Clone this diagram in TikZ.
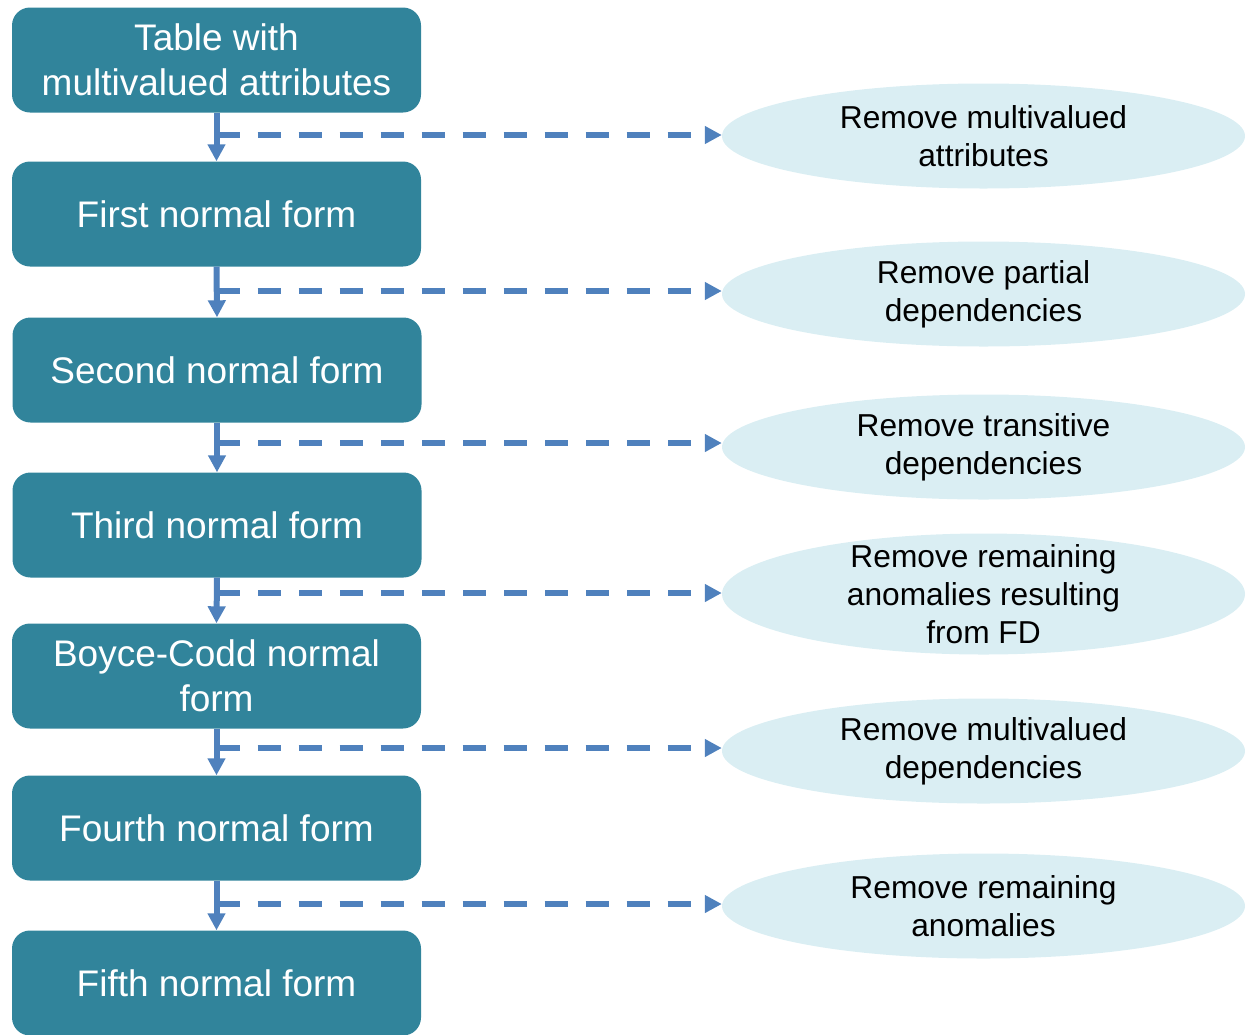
\documentclass[tikz,border=0pt]{standalone}
\usepackage{fontspec}
\setmainfont{Liberation Sans}
\usetikzlibrary{shapes.geometric,arrows.meta}
\definecolor{boxteal}{RGB}{49,132,155}
\definecolor{ellfill}{RGB}{218,238,243}
\definecolor{arrowblue}{RGB}{79,129,189}
\begin{document}
\begin{tikzpicture}[x=1pt,y=-1pt,
  formbox/.style={fill=boxteal, rounded corners=18pt, minimum width=409pt, minimum height=105pt,
    inner sep=0pt, text=white, align=center, font=\fontsize{37}{45}\selectfont},
  stepell/.style={ellipse, fill=ellfill, minimum width=523pt, minimum height=105pt,
    inner xsep=0pt, inner ysep=-25pt, align=center, font=\fontsize{31.7}{38}\selectfont},
  varrow/.style={draw=arrowblue, line width=6pt, -{Triangle[length=17pt,width=17pt]}},
  darrow/.style={draw=arrowblue, line width=6pt, dash pattern=on 23pt off 18pt,
    -{Triangle[length=17pt,width=17pt]}}]
\useasboundingbox (0,0) rectangle (1249,1034);
\node[formbox] (b1) at (216.5,60) {Table with\\multivalued attributes};
\node[formbox] (b2) at (216.5,214) {First normal form};
\node[formbox] (b3) at (217,370) {Second normal form};
\node[formbox] (b4) at (217,525) {Third normal form};
\node[formbox] (b5) at (216.5,676) {Boyce-Codd normal\\form};
\node[formbox] (b6) at (216.5,828) {Fourth normal form};
\node[formbox] (b7) at (216.5,983) {Fifth normal form};

\node[stepell] (e1) at (983.5,136) {Remove multivalued\\attributes};
\node[stepell] (e2) at (983.5,294) {Remove partial\\dependencies};
\node[stepell] (e3) at (983.5,447) {Remove transitive\\dependencies};
\node[stepell, minimum height=121pt] (e4) at (983.5,594) {Remove remaining\\anomalies resulting\\from FD};
\node[stepell] (e5) at (983.5,751) {Remove multivalued\\dependencies};
\node[stepell] (e6) at (983.5,906) {Remove remaining\\anomalies};

\draw[varrow] (b1.south) -- (b2.north);
\draw[varrow] (b2.south) -- (b3.north);
\draw[varrow] (b3.south) -- (b4.north);
\draw[varrow] (b4.south) -- (b5.north);
\draw[varrow] (b5.south) -- (b6.north);
\draw[varrow] (b6.south) -- (b7.north);

\draw[darrow] (b1.south |- 0,135) -- (e1.west |- 0,135);
\draw[darrow] (b2.south |- 0,291) -- (e2.west |- 0,291);
\draw[darrow] (b3.south |- 0,443) -- (e3.west |- 0,443);
\draw[darrow] (b4.south |- 0,593) -- (e4.west |- 0,593);
\draw[darrow] (b5.south |- 0,748) -- (e5.west |- 0,748);
\draw[darrow] (b6.south |- 0,904) -- (e6.west |- 0,904);
\end{tikzpicture}
\end{document}
